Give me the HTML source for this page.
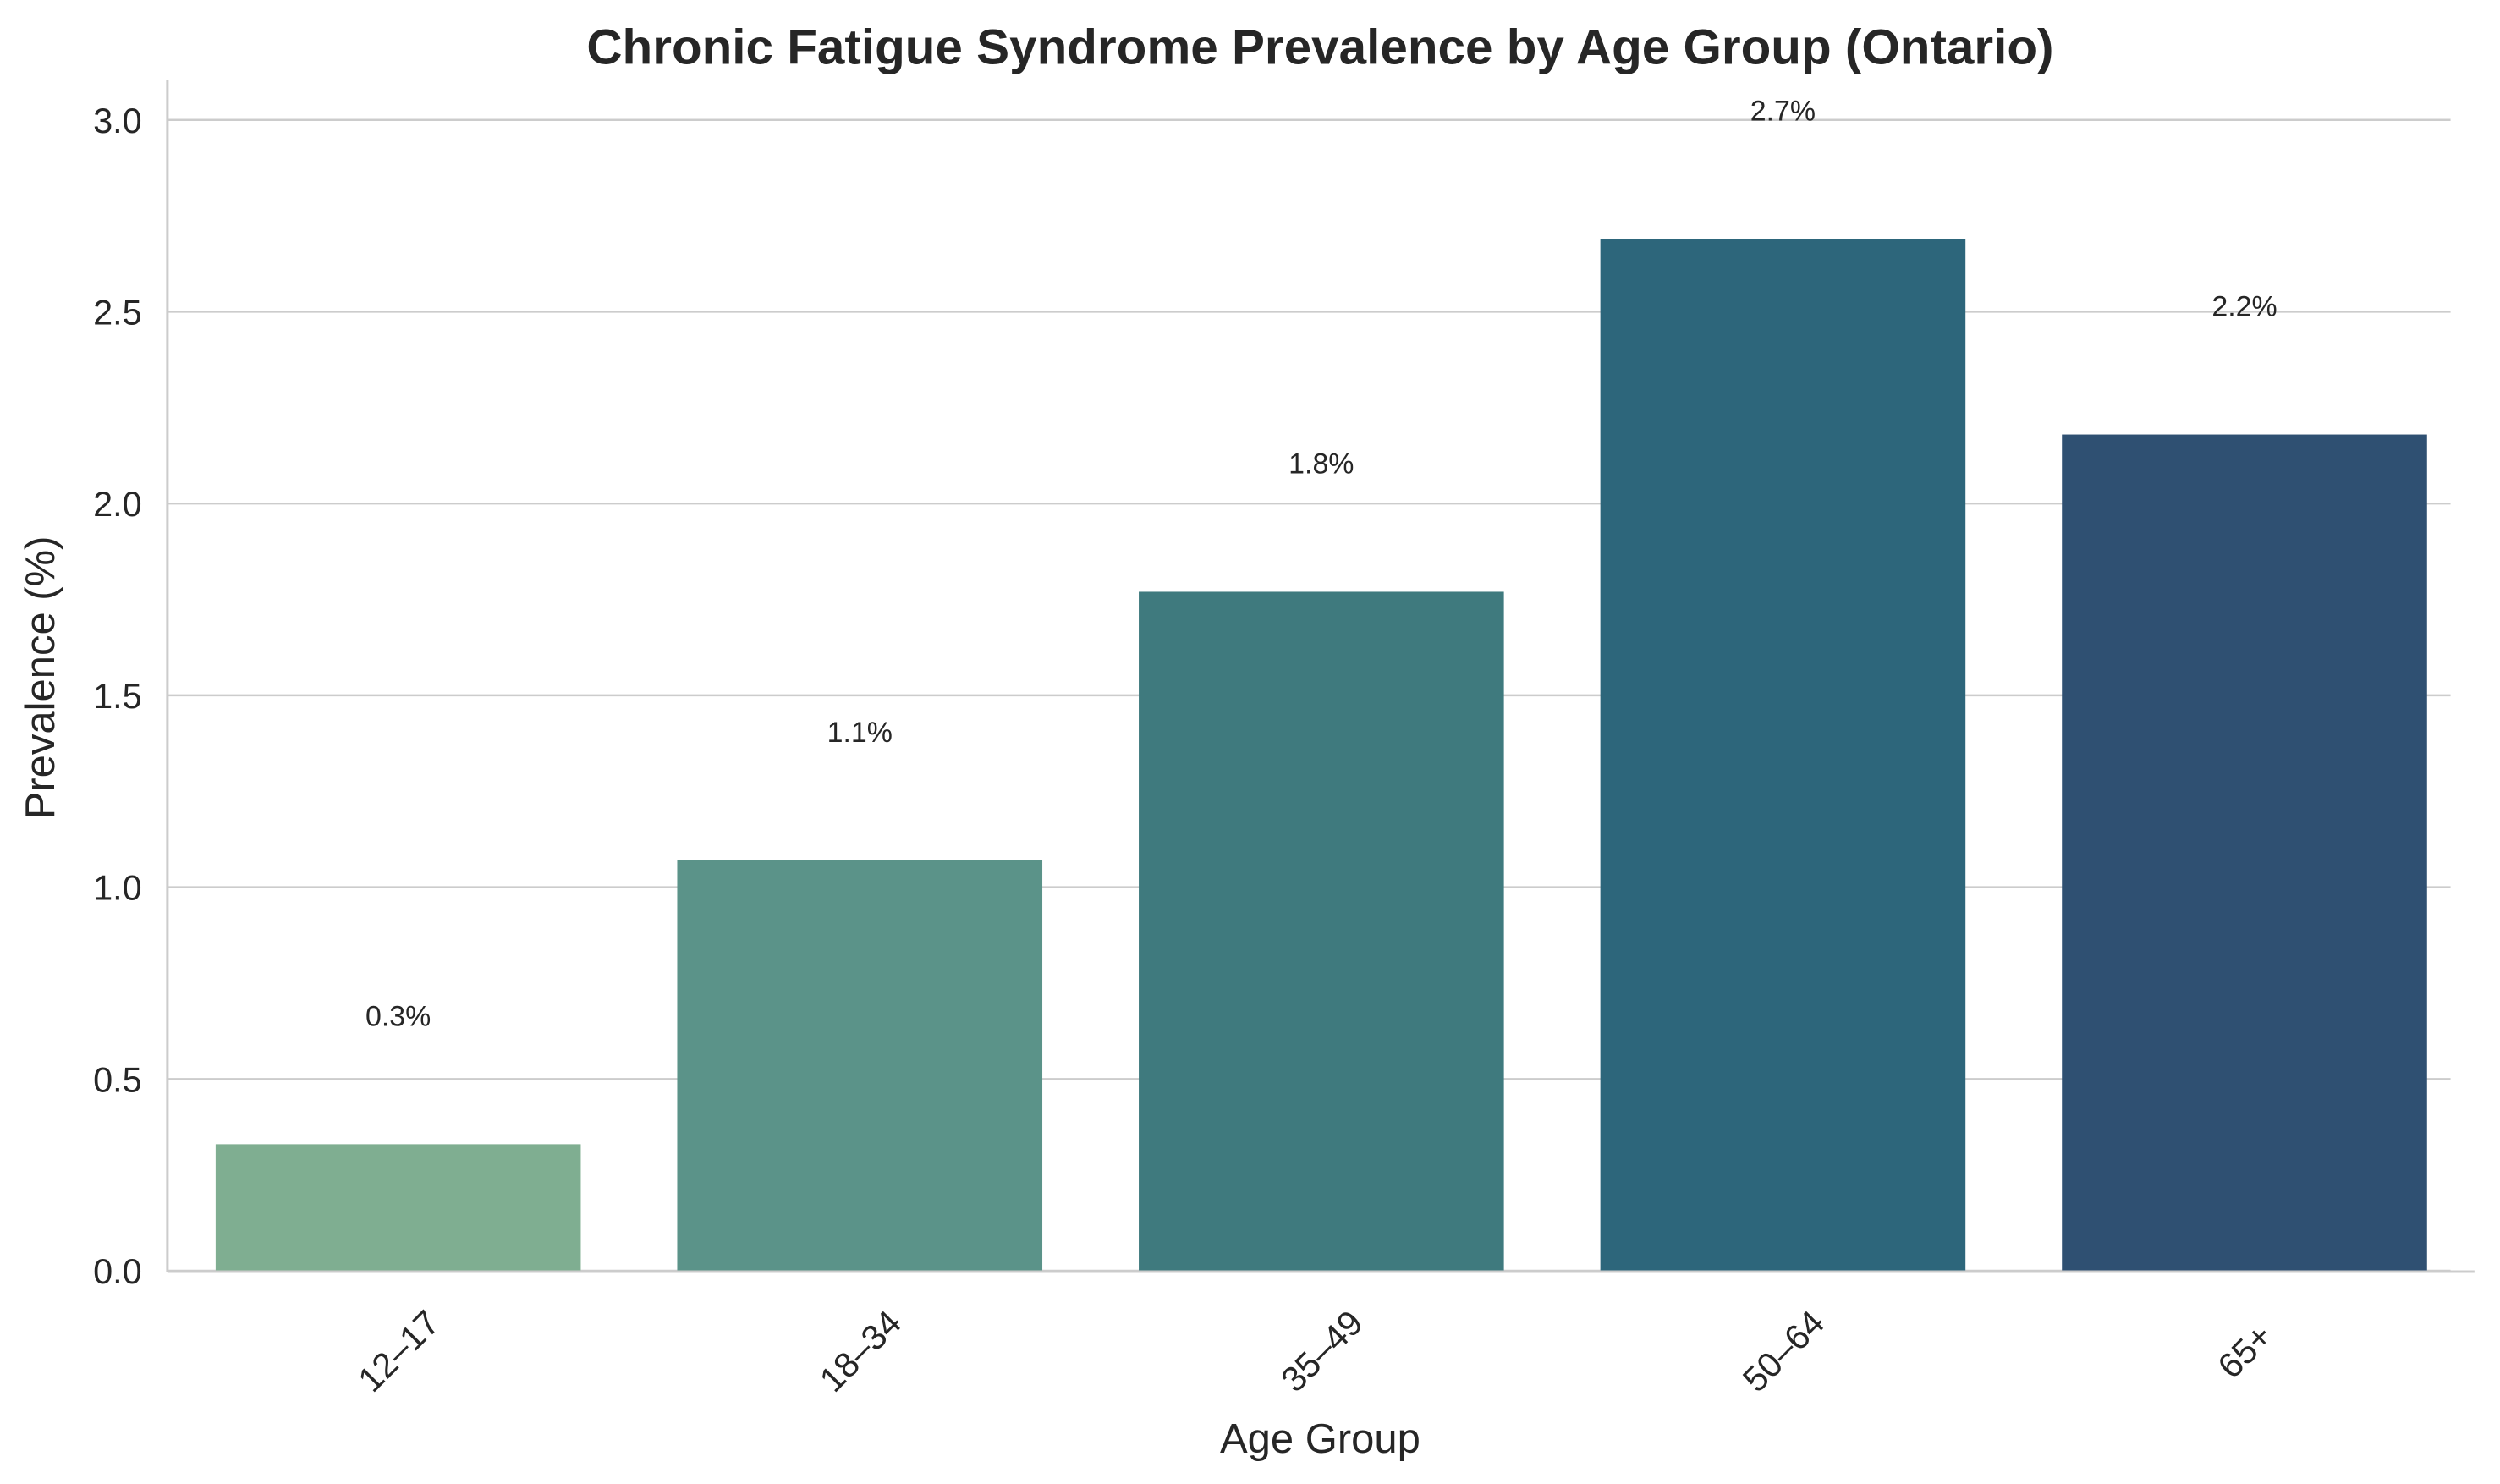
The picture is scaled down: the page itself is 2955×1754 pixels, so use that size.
<!DOCTYPE html>
<html><head><meta charset="utf-8"><style>html,body{margin:0;padding:0;background:#fff}svg{display:block}text{font-family:"Liberation Sans",Arial,sans-serif;fill:#262626}</style></head>
<body>
<svg id="chart" width="2955" height="1754" viewBox="0 0 1568 930.7" xmlns="http://www.w3.org/2000/svg">
<rect width="1568" height="931" fill="#fff"/>
<text x="828" y="40" text-anchor="middle" font-size="31" font-weight="bold">Chronic Fatigue Syndrome Prevalence by Age Group (Ontario)</text>
<g id="grid"></g>
<g id="bars"></g>
<g id="labels"></g>
<line x1="105" y1="50" x2="105" y2="798" stroke="#cccccc" stroke-width="1.6"/>
<line x1="105" y1="797.5" x2="1552" y2="797.5" stroke="#cccccc" stroke-width="1.6"/>
<text transform="translate(34,425) rotate(-90)" text-anchor="middle" font-size="26">Prevalence (%)</text>
<text x="828" y="911" text-anchor="middle" font-size="26">Age Group</text>
</svg>
<script>
const categories = ["12–17","18–34","35–49","50–64","65+"];
const values = [0.33, 1.07, 1.77, 2.69, 2.18];
const valueLabels = ["0.3%","1.1%","1.8%","2.7%","2.2%"];
const yTicks = [0.0, 0.5, 1.0, 1.5, 2.0, 2.5, 3.0];
const colors = ["#7fae91","#5b9389","#3f7a7e","#2d667b","#2f5072"];
const NS = "http://www.w3.org/2000/svg";
const y0 = 797, pxPerUnit = 240.6;
function yScale(v){ return y0 - v * pxPerUnit; }
const xLeft = 105, step = 289.5;
function xScale(i){ return xLeft + (i + 0.5) * step; }
const barW = 229;
function mk(tag, attrs, parent){ const e = document.createElementNS(NS, tag); for (const k in attrs) e.setAttribute(k, attrs[k]); parent.appendChild(e); return e; }
const grid = document.getElementById('grid'), bars = document.getElementById('bars'), labels = document.getElementById('labels');
yTicks.forEach(t => {
  const y = yScale(t);
  const l = mk('line', {x1: 105, x2: 1537, y1: y, y2: y, stroke: '#cccccc', 'stroke-width': 1.3}, grid);
  
  
  const tx = mk('text', {x: 89, y: y + 8, 'text-anchor': 'end', 'font-size': 22}, grid);
  tx.textContent = t.toFixed(1);
  
  
});
categories.forEach((c, i) => {
  const cx = xScale(i), v = values[i];
  const r = mk('rect', {x: cx - barW / 2, y: yScale(v), width: barW, height: y0 - yScale(v), fill: colors[i]}, bars);
  
  
  const vl = mk('text', {x: cx, y: yScale(v + 0.3) - 2, 'text-anchor': 'middle', 'font-size': 18}, labels);
  vl.textContent = valueLabels[i];
  
  
  const tl = mk('text', {transform: 'translate(' + cx + ',847) rotate(-45)', 'text-anchor': 'middle', 'font-size': 22, dy: '8'}, labels);
  tl.textContent = c;
  
  
});
</script>
</body></html>
